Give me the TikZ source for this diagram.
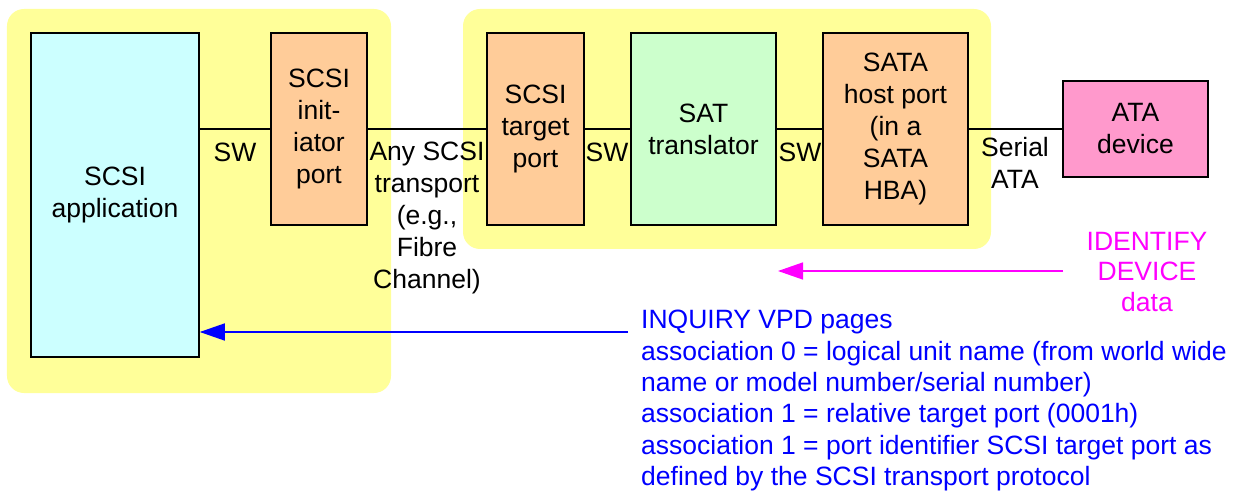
\documentclass[tikz,border=0pt]{standalone}
\usepackage{fontspec}
\setmainfont{Liberation Sans}
\usetikzlibrary{arrows.meta}
\definecolor{ylw}{HTML}{FFFF99}
\definecolor{cyanbox}{HTML}{CCFFFF}
\definecolor{orangebox}{HTML}{FFCC99}
\definecolor{greenbox}{HTML}{CCFFCC}
\definecolor{pinkbox}{HTML}{FF99CC}
\definecolor{mag}{HTML}{FF00FF}
\definecolor{blu}{HTML}{0000FF}
\begin{document}
\begin{tikzpicture}[x=1bp,y=-1bp,
  txt/.style={font=\fontsize{26.5bp}{32bp}\selectfont},
  grp/.style={fill=ylw, rounded corners=17bp, inner sep=0, draw=none},
  box/.style={txt, draw=black, line width=1.5bp, inner sep=0, align=center},
  lbl/.style={txt, inner sep=0, align=center},
  conn/.style={line width=1.5bp},
  arr/.style={line width=1.5bp, -{Triangle[length=25bp,width=17bp]}}]
\useasboundingbox (0,0) rectangle (1241,491);
% groups
\node[grp, minimum width=384bp, minimum height=384bp] (grpL) at (199,201) {};
\node[grp, minimum width=528bp, minimum height=240bp] (grpR) at (727,129) {};
% boxes
\node[box, fill=cyanbox, minimum width=168bp, minimum height=324bp] (app) at (115,195) {SCSI\\application};
\node[box, fill=orangebox, minimum width=96bp, minimum height=192bp] (init) at (319,129) {SCSI\\init-\\iator\\port};
\node[box, fill=orangebox, minimum width=97bp, minimum height=192bp] (tgt) at (535.5,129) {SCSI\\target\\port};
\node[box, fill=greenbox, minimum width=145bp, minimum height=192bp] (sat) at (703.5,129) {SAT\\translator};
\node[box, fill=orangebox, minimum width=145bp, minimum height=192bp] (host) at (895.5,129) {SATA\\host port\\(in a\\SATA\\HBA)};
\node[box, fill=pinkbox, minimum width=145bp, minimum height=96bp] (ata) at (1135.5,129) {ATA\\device};
% connectors
\draw[conn] (app.east |- init.west) -- (init.west);
\draw[conn] (init) -- (tgt);
\draw[conn] (tgt) -- (sat);
\draw[conn] (sat) -- (host);
\draw[conn] (host) -- (ata);
% labels
\node[lbl] (sw1) at (235,152) {SW};
\node[lbl] (sw2) at (607,152) {SW};
\node[lbl] (sw3) at (800,152) {SW};
\node[lbl] (anyscsi) at (427,218) {Any SCSI\\transport\\(e.g.,\\Fibre\\Channel)};
\node[lbl] (sata) at (1015,163) {Serial\\ATA};
\node[lbl, text=mag, font=\fontsize{26.5bp}{30.5bp}\selectfont] (ident) at (1147,272) {IDENTIFY\\DEVICE\\data};
\node[lbl, text=blu, align=left, anchor=north west, font=\fontsize{26.5bp}{31.4bp}\selectfont] (inq) at (641,310) {INQUIRY VPD pages\\association 0 = logical unit name (from world wide\\name or model number/serial number)\\association 1 = relative target port (0001h)\\association 1 = port identifier SCSI target port as\\defined by the SCSI transport protocol};
% arrows
\coordinate (bstart) at (628,332);
\draw[arr, blu] (bstart) -- (bstart -| app.east);
\coordinate (mstart) at (1063,271);
\coordinate (mend) at (778,271);
\draw[arr, mag] (mstart) -- (mend);
\end{tikzpicture}
\end{document}
